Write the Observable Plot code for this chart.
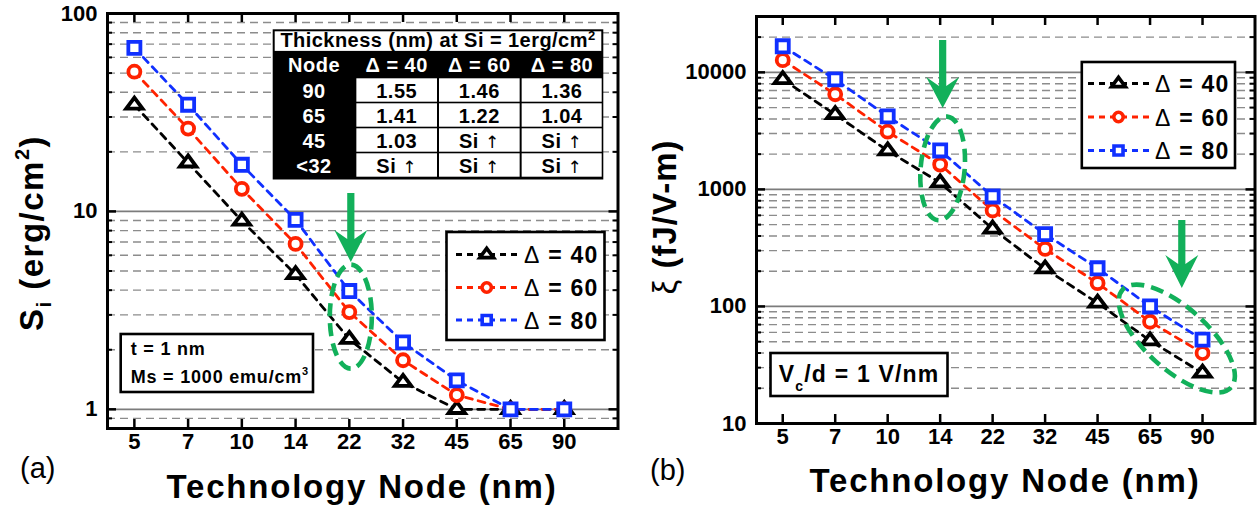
<!DOCTYPE html>
<html>
<head>
<meta charset="utf-8">
<script src="https://cdn.jsdelivr.net/npm/d3@7"></script>
<script src="https://cdn.jsdelivr.net/npm/@observablehq/plot@0.6"></script>
<style>
  html, body { margin: 0; padding: 0; background: #fff; }
  #wrap { position: relative; width: 1257px; height: 510px; overflow: hidden; background: #fff; }
  #wrap > svg { position: absolute; top: 0; }
</style>
</head>
<body>
<div id="wrap"></div>
<script>
// ---------------- data ----------------
const nodes = ["5", "7", "10", "14", "22", "32", "45", "65", "90"];
const seriesNames = ["Δ = 40", "Δ = 60", "Δ = 80"];
// panel (a): Si (erg/cm^2)
const siD40 = [34.5, 17.6, 8.95, 4.8, 2.26, 1.37, 1.0, 1.0, 1.0];
const siD60 = [50.8, 26.2, 13.0, 6.85, 3.1, 1.77, 1.18, 1.0, 1.0];
const siD80 = [67, 34.6, 17.2, 9.06, 3.96, 2.18, 1.40, 1.0, 1.0];
// panel (b): xi (fJ/V-m)
const xiD40 = [8700, 4360, 2140, 1140, 460, 210, 107, 51, 27];
const xiD60 = [12700, 6500, 3110, 1630, 660, 310, 158, 74, 40];
const xiD80 = [16700, 8700, 4200, 2150, 870, 415, 212, 100, 52];
// axis ticks
const siMajor = [1, 10, 100];
const siMinor = [0.9, 2, 3, 4, 5, 6, 7, 8, 9, 20, 30, 40, 50, 60, 70, 80, 90];
const xiMajor = [10, 100, 1000, 10000];
const xiMinor = [20, 30, 40, 50, 60, 70, 80, 90, 200, 300, 400, 500, 600, 700, 800, 900,
                 2000, 3000, 4000, 5000, 6000, 7000, 8000, 9000, 20000];
// inset table of panel (a)
const tableTitle = "Thickness (nm) at Si = 1erg/cm";
const tableHeader = ["Node", "Δ = 40", "Δ = 60", "Δ = 80"];
const tableNodes = ["90", "65", "45", "<32"];
const tableD40 = ["1.55", "1.41", "1.03", "Si ↑"];
const tableD60 = ["1.46", "1.22", "Si ↑", "Si ↑"];
const tableD80 = ["1.36", "1.04", "Si ↑", "Si ↑"];

// ---------------- style ----------------
const FONT = '"Liberation Sans", Arial, Helvetica, sans-serif';
const colors = ["#000000", "#ff2200", "#1030ff"];
const GREEN = "#12b05a";
const idx = d3.range(nodes.length);
const flatTriangle = {
  draw(ctx, size) {
    const r = Math.sqrt(size / Math.PI);
    const hw = 1.3 * r, h = 1.75 * r;
    ctx.moveTo(0, -2 * h / 3);
    ctx.lineTo(hw, h / 3);
    ctx.lineTo(-hw, h / 3);
    ctx.closePath();
  }
};
const symbols = [flatTriangle, "circle", "square"];
const radii = [6.3, 6.0, 6.8];

function panel({series, domain, majors, minors, width, margin}) {
  const innerW = width - margin.left - margin.right;
  const innerH = 510 - margin.top - margin.bottom;
  const [lo, hi] = domain;
  const inside = (v) => v > lo && v < hi;
  const marks = [
    Plot.ruleY(minors, {y: d => d, stroke: "#8c8c8c", strokeWidth: 1.4, strokeDasharray: "8,5"}),
    Plot.ruleY(majors.filter(inside), {y: d => d, stroke: "#7c7c7c", strokeWidth: 1.7})
  ];
  const rowsList = series.map(vals => idx.map(i => ({i, v: vals[i]})));
  rowsList.forEach((rows, k) => {
    marks.push(Plot.line(rows, {x: "i", y: "v", stroke: colors[k], strokeWidth: 2.8, strokeDasharray: "7,6"}));
  });
  rowsList.forEach((rows, k) => {
    marks.push(Plot.dot(rows, {x: "i", y: "v", symbol: symbols[k], r: radii[k], stroke: colors[k], strokeWidth: 3.8, fill: "white"}));
  });
  marks.push(Plot.frame({stroke: "black", strokeWidth: 3}));
  const tk = {stroke: "black", strokeWidth: 2.5};
  marks.push(
    Plot.ruleX(idx, {x: d => d, insetTop: innerH - 9, ...tk}),
    Plot.ruleX(idx, {x: d => d, insetBottom: innerH - 9, ...tk}),
    Plot.ruleY(majors, {y: d => d, insetRight: innerW - 9, ...tk}),
    Plot.ruleY(majors, {y: d => d, insetLeft: innerW - 9, ...tk}),
    Plot.ruleY(minors, {y: d => d, insetRight: innerW - 5, stroke: "black", strokeWidth: 2}),
    Plot.ruleY(minors, {y: d => d, insetLeft: innerW - 5, stroke: "black", strokeWidth: 2}),
    Plot.text(majors, {y: d => d, text: d => String(d), frameAnchor: "left", textAnchor: "end", dx: -10, fontSize: 22, fontWeight: "bold"}),
    Plot.text(idx, {x: d => d, text: i => nodes[i], frameAnchor: "bottom", dy: 20, fontSize: 22, fontWeight: "bold"})
  );
  return Plot.plot({
    width, height: 510,
    marginTop: margin.top, marginBottom: margin.bottom, marginLeft: margin.left, marginRight: margin.right,
    x: {type: "linear", domain: [-0.5, 9], axis: null},
    y: {type: "log", domain, axis: null},
    style: {fontFamily: FONT, background: "white", color: "black", overflow: "visible"},
    marks
  });
}

const wrap = document.getElementById("wrap");

// ---------- panel (a) ----------
const svgA = panel({
  series: [siD40, siD60, siD80], domain: [0.8, 100], majors: siMajor, minors: siMinor,
  width: 630, margin: {top: 13, bottom: 82, left: 107, right: 12.5}
});
svgA.style.left = "0px";
wrap.appendChild(svgA);

// ---------- panel (b) ----------
const svgB = panel({
  series: [xiD40, xiD60, xiD80], domain: [10, 30000], majors: xiMajor, minors: xiMinor,
  width: 627, margin: {top: 16, bottom: 87, left: 126, right: 2.5}
});
svgB.style.left = "630px";
wrap.appendChild(svgB);

// ---------------- annotations ----------------
const ARROWFONT = '"DejaVu Sans", sans-serif';
function legend(g, x0, y0, w, h, rowsY, lineX0, lineX1, markX, textX) {
  g.append("rect").attr("x", x0).attr("y", y0).attr("width", w).attr("height", h)
    .attr("fill", "white").attr("stroke", "black").attr("stroke-width", 2.6);
  seriesNames.forEach((name, k) => {
    const y = rowsY[k];
    g.append("line").attr("x1", lineX0).attr("x2", lineX1).attr("y1", y).attr("y2", y)
      .attr("stroke", colors[k]).attr("stroke-width", 2.8).attr("stroke-dasharray", "6,5");
    const sym = k === 0 ? flatTriangle : (k === 1 ? d3.symbolCircle : d3.symbolSquare);
    const r = [5.3, 4.7, 5.1][k];
    g.append("path").attr("d", d3.symbol(sym, Math.PI * r * r)())
      .attr("transform", `translate(${markX},${y})`)
      .attr("fill", "white").attr("stroke", colors[k]).attr("stroke-width", 3.6);
    const t = g.append("text").attr("x", textX).attr("y", y + 8.5).attr("text-anchor", "start")
      .attr("font-size", 23).attr("font-weight", "bold").attr("letter-spacing", 1.2);
    t.append("tspan").attr("font-weight", "normal").text(name.slice(0, 1));
    t.append("tspan").text(name.slice(1));
  });
}
function arrow(g, x, top, barb, join, tip) {
  g.append("path")
    .attr("d", `M${x - 3.6},${top} L${x + 3.6},${top} L${x + 3.6},${join} L${x + 16.5},${barb} L${x},${tip} L${x - 16.5},${barb} L${x - 3.6},${join} Z`)
    .attr("fill", GREEN);
}
function ellipse(g, cx, cy, rx, ry, rot) {
  g.append("ellipse").attr("cx", 0).attr("cy", 0).attr("rx", rx).attr("ry", ry)
    .attr("transform", `translate(${cx},${cy}) rotate(${rot})`)
    .attr("fill", "none").attr("stroke", GREEN).attr("stroke-width", 4.6).attr("stroke-dasharray", "13,7");
}

// ----- panel (a) overlays -----
{
  const g = d3.select(svgA).append("g").attr("font-family", FONT).attr("fill", "black").attr("text-anchor", "start");
  const sx = svgA.scale("x"), sy = svgA.scale("y");
  // table
  const tx0 = 272.7, tx1 = 603.3, colW = (tx1 - tx0) / 4;
  g.append("rect").attr("x", tx0).attr("y", 29.3).attr("width", tx1 - tx0).attr("height", 150.2).attr("fill", "black");
  g.append("rect").attr("x", tx0 + 2).attr("y", 31.3).attr("width", tx1 - tx0 - 4).attr("height", 19.6).attr("fill", "white");
  const tt = g.append("text").attr("x", (tx0 + tx1) / 2).attr("y", 47.2).attr("text-anchor", "middle")
    .attr("font-size", 20).attr("font-weight", "bold").attr("letter-spacing", 0.45);
  tt.append("tspan").text(tableTitle);
  tt.append("tspan").attr("font-size", 13).attr("dy", -7).text("2");
  tableHeader.forEach((h, c) => {
    g.append("text").attr("x", tx0 + colW * (c + 0.5)).attr("y", 72.3).attr("text-anchor", "middle")
      .attr("font-size", 20).attr("font-weight", "bold").attr("letter-spacing", 0.5).attr("fill", "white").text(h);
  });
  const cols = [tableD40, tableD60, tableD80];
  tableNodes.forEach((nd, r) => {
    const base = 98.3 + 25 * r;
    g.append("text").attr("x", tx0 + colW * 0.5).attr("y", base).attr("text-anchor", "middle")
      .attr("font-size", 20).attr("font-weight", "bold").attr("letter-spacing", 0.5).attr("fill", "white").text(nd);
    cols.forEach((col, c) => {
      const cx0 = tx0 + colW * (c + 1);
      g.append("rect").attr("x", cx0 + 1).attr("y", 78.3 + 25 * r).attr("width", colW - (c === 2 ? 2.6 : 2)).attr("height", 23.4).attr("fill", "white");
      const t = g.append("text").attr("x", cx0 + colW / 2).attr("y", base).attr("text-anchor", "middle")
        .attr("font-size", 20).attr("font-weight", "bold").attr("letter-spacing", 0.5);
      const v = col[r];
      if (v.includes("↑")) {
        t.append("tspan").text("Si ");
        t.append("tspan").attr("font-family", ARROWFONT).attr("font-weight", "normal").attr("font-size", 17).text("↑");
      } else t.text(v);
    });
  });
  // legend
  legend(g, 446.5, 232, 158, 108, [254.5, 287.5, 320], 456, 517, 486.7, 524);
  // t / Ms box
  g.append("rect").attr("x", 120.7).attr("y", 334).attr("width", 192.3).attr("height", 58)
    .attr("fill", "white").attr("stroke", "black").attr("stroke-width", 2.6);
  g.append("text").attr("x", 130.7).attr("y", 354.5).attr("font-size", 18).attr("font-weight", "bold")
    .attr("letter-spacing", 0.8).text("t = 1 nm");
  const ms = g.append("text").attr("x", 130.7).attr("y", 382.5).attr("font-size", 18).attr("font-weight", "bold").attr("letter-spacing", 0.8);
  ms.append("tspan").text("Ms = 1000 emu/cm");
  ms.append("tspan").attr("font-size", 11).attr("dy", -8).text("3");
  // arrow + ellipse
  const x22 = sx.apply(4);
  arrow(g, x22 + 2, 193, 230, 239, 262);
  const cy = d3.mean([siD40[4], siD60[4], siD80[4]], v => sy.apply(v));
  ellipse(g, x22 + 2, cy + 3, 21, 52, 0);
  // axis titles
  const yt = g.append("text").attr("transform", "translate(43,233) rotate(-90)").attr("text-anchor", "middle")
    .attr("font-size", 33).attr("font-weight", "bold").attr("letter-spacing", 1.5);
  yt.append("tspan").text("S");
  yt.append("tspan").attr("font-size", 20).attr("dy", 8).text("i");
  yt.append("tspan").attr("dy", -8).text(" (erg/cm");
  yt.append("tspan").attr("font-size", 20).attr("dy", -14).text("2");
  yt.append("tspan").attr("dy", 14).text(")");
  g.append("text").attr("x", 362).attr("y", 498).attr("text-anchor", "middle")
    .attr("font-size", 33).attr("font-weight", "bold").attr("letter-spacing", 1.8).text("Technology Node (nm)");
  g.append("text").attr("x", 20).attr("y", 478).attr("font-size", 29).text("(a)");
}

// ----- panel (b) overlays -----
{
  const g = d3.select(svgB).append("g").attr("font-family", FONT).attr("fill", "black").attr("text-anchor", "start");
  const sx = svgB.scale("x"), sy = svgB.scale("y");
  const ox = 630;
  legend(g, 1081.8 - ox, 62, 153.2, 106, [83.5, 117, 150.5], 1088 - ox, 1149 - ox, 1118.5 - ox, 1155 - ox);
  // Vc/d box
  g.append("rect").attr("x", 770.5 - ox).attr("y", 353).attr("width", 177).attr("height", 43)
    .attr("fill", "white").attr("stroke", "black").attr("stroke-width", 2.6);
  const vt = g.append("text").attr("x", 778.7 - ox).attr("y", 382).attr("font-size", 23).attr("font-weight", "bold").attr("letter-spacing", 1.2);
  vt.append("tspan").text("V");
  vt.append("tspan").attr("font-size", 14).attr("dy", 9).text("c");
  vt.append("tspan").attr("dy", -9).text("/d = 1 V/nm");
  // arrows + ellipses
  const x14 = sx.apply(3);
  arrow(g, x14 + 3, 40, 77, 86, 108);
  const cy14 = d3.mean([xiD40[3], xiD60[3], xiD80[3]], v => sy.apply(v));
  ellipse(g, x14 + 3, cy14 + 3, 22, 52, 5);
  const x6590 = (sx.apply(7) + sx.apply(8)) / 2;
  arrow(g, x6590 + 6, 220, 255, 264, 288);
  const cyTail = d3.mean([xiD40[7], xiD60[7], xiD80[7], xiD40[8], xiD60[8], xiD80[8]], v => sy.apply(v));
  ellipse(g, x6590 + 1, cyTail, 73, 31, 42);
  // axis titles
  const yt = g.append("text").attr("transform", `translate(${676 - ox},217) rotate(-90)`).attr("text-anchor", "middle")
    .attr("font-size", 33).attr("font-weight", "bold").attr("letter-spacing", 1);
  yt.append("tspan").attr("font-weight", "normal").text("ξ");
  yt.append("tspan").text(" (fJ/V-m)");
  g.append("text").attr("x", 1005 - ox).attr("y", 492).attr("text-anchor", "middle")
    .attr("font-size", 33).attr("font-weight", "bold").attr("letter-spacing", 1.8).text("Technology Node (nm)");
  g.append("text").attr("x", 650 - ox).attr("y", 480).attr("font-size", 29).text("(b)");
}
</script>
</body>
</html>
